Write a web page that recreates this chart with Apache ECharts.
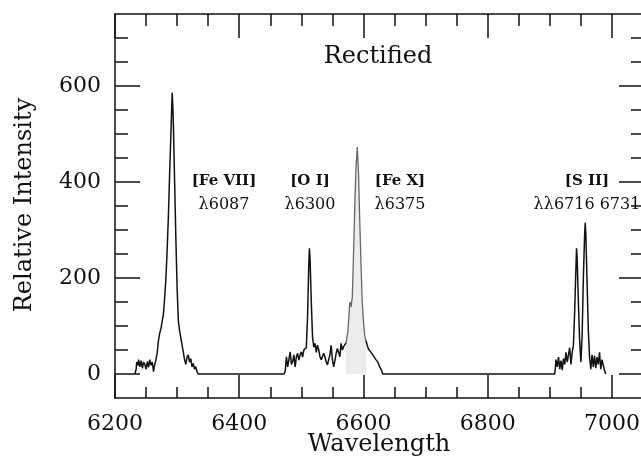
<!DOCTYPE html>
<html>
<head>
<meta charset="utf-8">
<script src="https://cdn.jsdelivr.net/npm/echarts@6/dist/echarts.min.js"></script>
<style>html,body{margin:0;padding:0;background:#fff}#c{width:641px;height:458px}</style>
</head>
<body>
<div id="c"></div>
<script>
// Main spectrum (black line); null marks the H-alpha gap drawn separately
const wavelength = [
 6232,6234,6235,6237,6238,6240,6242,6244,6246,6248,6250,6252,6254,6256,6258,6260,6262,6264,6266,6268,
 6270,6272,6274,6276,6278,6280,6282,6284,6286,6288,6290,6292,6293,6294,6296,6298,6300,6302,6304,6306,
 6308,6310,6312,6314,6316,6318,6320,6322,6324,6326,6328,6330,6332,6334,
 6472,6474,6476,6478,6480,6482,6484,6486,6488,6490,6492,6494,6496,6498,6500,6502,6504,6506,6508,6510,
 6512,6513,6514,6516,6518,6520,6522,6524,6526,6528,6530,6532,6534,6536,6538,6540,6542,6544,6546,6548,
 6550,6552,6554,6556,6558,6560,6562,6564,6566,6568,6570,6572,6588,
 6604,6606,6608,6611,6614,6617,6620,6623,6626,6629,6631,
 6908,6910,6912,6914,6916,6918,6920,6922,6924,6926,6928,6930,6932,6934,6936,6938,6940,6942,6943,6944,
 6946,6948,6950,6952,6954,6956,6957,6958,6960,6962,6964,6966,6968,6970,6972,6974,6976,6978,6980,6982,
 6984,6986,6988,6990
];
const intensity = [
 0,10,25,18,30,15,28,12,25,20,10,26,14,30,18,25,5,20,30,45,
 70,85,95,110,125,160,200,260,330,420,500,586,560,520,400,280,180,110,90,75,
 60,45,30,20,35,40,25,32,15,22,10,15,5,0,
 0,5,36,15,30,46,20,26,40,15,36,43,29,40,46,35,50,48,55,120,
 230,262,240,150,77,56,64,45,60,50,36,30,26,43,36,25,19,30,40,60,
 30,15,28,43,53,45,36,64,50,57,60,65,null,
 70,60,52,48,42,40,30,25,15,8,0,
 0,30,15,35,10,28,8,32,20,45,25,40,55,20,45,60,130,220,262,240,
 150,70,25,80,200,290,315,290,190,90,35,10,40,15,38,12,35,20,45,10,
 30,18,8,0
];
// H-alpha blend region (drawn in grey in the original)
const haWavelength = [6572,6575,6578,6580,6582,6584,6586,6588,6590,6592,6594,6596,6598,6600,6602,6604];
const haIntensity  = [65,90,150,140,160,250,350,430,473,420,320,230,150,110,80,70];

const xMajor = [6200,6400,6600,6800,7000];
const xMinor = [6250,6300,6350,6450,6500,6550,6650,6700,6750,6850,6900,6950,7050];
const yMajor = [0,200,400,600];
const yMinor = [50,100,150,250,300,350,450,500,550,650,700];

const xTitle = 'Wavelength';
const yTitle = 'Relative Intensity';
const plotTitle = 'Rectified';
const annotations = [
  {label:'[Fe VII]', line:'λ6087', x:224},
  {label:'[O I]', line:'λ6300', x:310},
  {label:'[Fe X]', line:'λ6375', x:400},
  {label:'[S II]', line:'λλ6716 6731', x:587}
];

const X_MIN = 6200, X_MAX = 7050, Y_MIN = -50, Y_MAX = 750;
const serif = 'DejaVu Serif';
const black = '#111';

const mainData = wavelength.map((w,i)=>[w, intensity[i]]);
const haData = haWavelength.map((w,i)=>[w, haIntensity[i]]);

function xAx(pos, ticks, len, major){
  return {
    type:'value', position:pos, min:X_MIN, max:X_MAX,
    axisLine:{show:major, onZero:false, lineStyle:{color:black,width:1.5}},
    axisTick:{show:true, inside:true, length:len, customValues:ticks, lineStyle:{color:black,width:1.5}},
    axisLabel:{show:major && pos==='bottom', customValues:ticks, formatter:v=>String(v), color:black, fontFamily:serif, fontSize:22, margin:15},
    splitLine:{show:false}
  };
}
function yAx(pos, ticks, len, major){
  return {
    type:'value', position:pos, min:Y_MIN, max:Y_MAX,
    axisLine:{show:major, onZero:false, lineStyle:{color:black,width:1.5}},
    axisTick:{show:true, inside:true, length:len, customValues:ticks, lineStyle:{color:black,width:1.5}},
    axisLabel:{show:major && pos==='left', customValues:ticks, formatter:v=>String(v), color:black, fontFamily:serif, fontSize:22, margin:14},
    splitLine:{show:false}
  };
}

const graphics = [
  {type:'text', x:378, y:57,
   style:{text:plotTitle, fill:black, font:'24px "DejaVu Serif"', textAlign:'center', textVerticalAlign:'middle'}},
  {type:'text', x:379, y:445,
   style:{text:xTitle, fill:black, font:'24px "DejaVu Serif"', textAlign:'center', textVerticalAlign:'middle'}},
  {type:'text', x:25, y:205, rotation:Math.PI/2,
   style:{text:yTitle, fill:black, font:'24px "DejaVu Serif"', textAlign:'center', textVerticalAlign:'middle'}}
];
annotations.forEach(a=>{
  graphics.push({type:'text', x:a.x, y:181, style:{text:a.label, fill:black, font:'bold 15px "DejaVu Serif"', textAlign:'center', textVerticalAlign:'middle'}});
  graphics.push({type:'text', x:a.x, y:205, style:{text:a.line, fill:black, font:'16px "DejaVu Serif"', textAlign:'center', textVerticalAlign:'middle'}});
});

const chart = echarts.init(document.getElementById('c'), null, {renderer:'canvas'});
chart.setOption({
  animation:false,
  backgroundColor:'#fff',
  grid:{left:115, top:14, width:528, height:384, containLabel:false, outerBoundsMode:'none'},
  xAxis:[xAx('bottom',xMajor,23,true), xAx('bottom',xMinor,11,false), xAx('top',xMajor,24,true), xAx('top',xMinor,12,false)],
  yAxis:[yAx('left',yMajor,25,true), yAx('left',yMinor,13,false), yAx('right',yMajor,24,true), yAx('right',yMinor,12,false)],
  series:[
    {type:'line', data:haData, xAxisIndex:0, yAxisIndex:0, showSymbol:false, symbol:'none',
     lineStyle:{color:'#666', width:1.3}, areaStyle:{color:'#ececec', opacity:1}, z:2},
    {type:'line', data:mainData, xAxisIndex:0, yAxisIndex:0, showSymbol:false, symbol:'none', connectNulls:false,
     lineStyle:{color:black, width:1.5}, z:3}
  ],
  graphic:graphics
});
</script>
</body>
</html>
